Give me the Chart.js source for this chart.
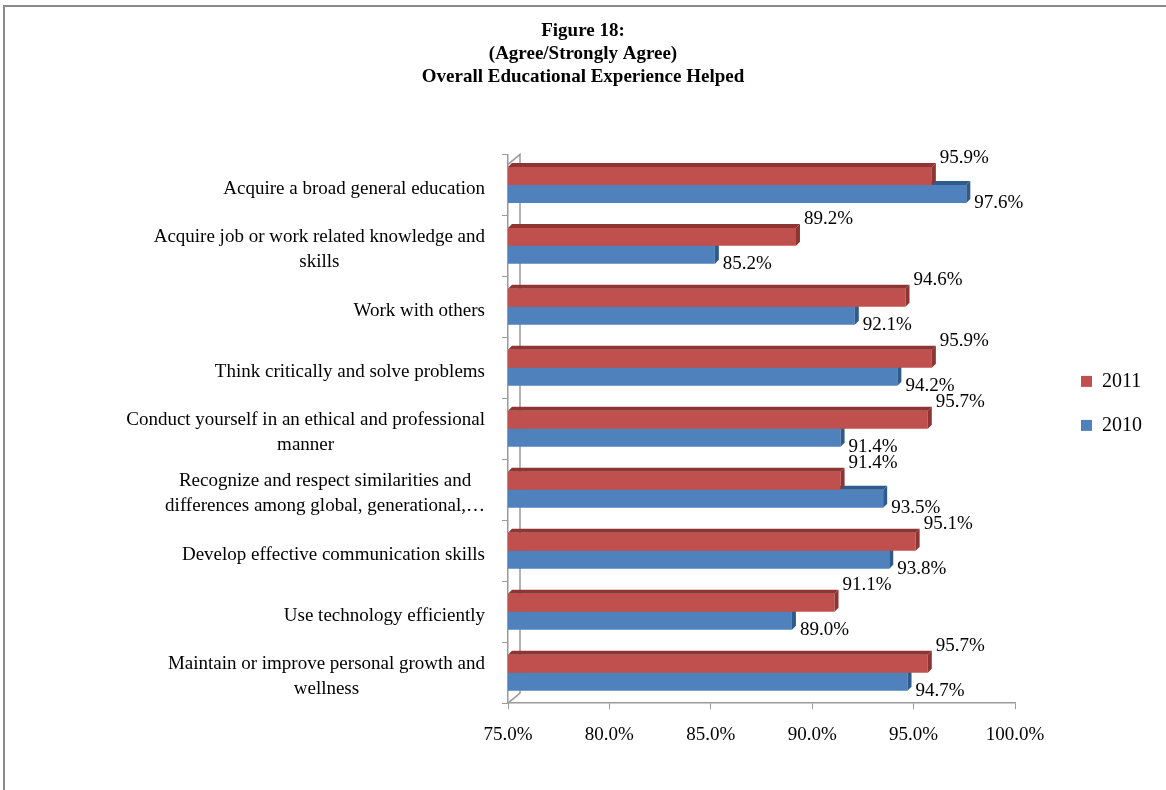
<!DOCTYPE html>
<html>
<head>
<meta charset="utf-8">
<script src="https://cdn.jsdelivr.net/npm/chart.js@4"></script>
<style>
  html, body { margin: 0; padding: 0; background: #fff; }
  #wrap { width: 1166px; height: 790px; position: relative; }
</style>
</head>
<body>
<div id="wrap"><canvas id="chart"></canvas></div>
<script>
const categories = [
  'Acquire a broad general education',
  ['Acquire job or work related knowledge and', 'skills'],
  'Work with others',
  'Think critically and solve problems',
  ['Conduct yourself in an ethical and professional', 'manner'],
  ['Recognize and respect similarities and', 'differences among global, generational,\u2026'],
  'Develop effective communication skills',
  'Use technology efficiently',
  ['Maintain or improve personal growth and', 'wellness']
]
const values2011 = [95.9, 89.2, 94.6, 95.9, 95.7, 91.4, 95.1, 91.1, 95.7]
const values2010 = [97.6, 85.2, 92.1, 94.2, 91.4, 93.5, 93.8, 89.0, 94.7]
const titleLines = ['Figure 18:', '(Agree/Strongly Agree)', 'Overall Educational Experience Helped']

const RED = '#C0504D', RED_DARK = '#8E3533'
const BLUE = '#4F81BD', BLUE_DARK = '#2F5A8C'
const SERIF = "'Liberation Serif', 'Times New Roman', serif"
const depth = 4

// frame lines around the picture, legend and title nudged right
const framePlugin = {
  id: 'frame',
  beforeDraw (chart) {
    const ctx = chart.ctx
    ctx.save()
    ctx.fillStyle = '#fff'
    ctx.fillRect(0, 0, chart.width, chart.height)
    ctx.strokeStyle = '#8a8a8a'
    ctx.lineWidth = 2
    ctx.beginPath()
    ctx.moveTo(4, chart.height)
    ctx.lineTo(4, 6)
    ctx.lineTo(chart.width, 6)
    ctx.stroke()
    ctx.restore()
    if (!chart._nudged) {
      chart.legend.left += 42
      chart.legend.right += 42
      chart.titleBlock.left += 24
      chart.titleBlock.right += 24
      chart._nudged = true
    }
  }
}

// 3d-looking back wall of the plot
const wallPlugin = {
  id: 'wall',
  beforeDatasetsDraw (chart) {
    const {ctx, chartArea: a} = chart
    const dx = 12, dy = 10
    ctx.save()
    ctx.strokeStyle = '#9a9a9a'
    ctx.lineWidth = 1.5
    ctx.beginPath()
    ctx.moveTo(a.left, a.top + dy)
    ctx.lineTo(a.left + dx, a.top)
    ctx.lineTo(a.left + dx, a.bottom - dy)
    ctx.lineTo(a.left, a.bottom)
    ctx.stroke()
    ctx.restore()
  }
}

// category labels: lines centred on each other, block right-aligned to the axis
const categoryLabelPlugin = {
  id: 'catLabels',
  afterDraw (chart) {
    const ctx = chart.ctx
    const yScale = chart.scales.y
    const rightEdge = chart.chartArea.left - 23
    const lh = 25
    ctx.save()
    ctx.font = '19px ' + SERIF
    ctx.fillStyle = '#000'
    ctx.textAlign = 'center'
    ctx.textBaseline = 'middle'
    chart.data.labels.forEach((lab, i) => {
      const lines = Array.isArray(lab) ? lab : [lab]
      const w = Math.max(...lines.map(l => ctx.measureText(l).width))
      const cx = rightEdge - w / 2
      const cy = yScale.getPixelForTick(i) + 4
      lines.forEach((l, k) => {
        ctx.fillText(l, cx, cy + (k - (lines.length - 1) / 2) * lh)
      })
    })
    ctx.restore()
  }
}

// top and side faces of each bar, plus value labels
const barFacePlugin = {
  id: 'barFaces',
  afterDatasetDraw (chart, args) {
    const ctx = chart.ctx
    const dark = args.index === 0 ? RED_DARK : BLUE_DARK
    const left = chart.chartArea.left
    ctx.save()
    args.meta.data.forEach(bar => {
      const {x, y, base, height} = bar.getProps(['x', 'y', 'base', 'height'], true)
      const b = Math.max(base, left)
      const top = y - height / 2, bot = y + height / 2
      ctx.fillStyle = dark
      ctx.beginPath()
      ctx.moveTo(b, top)
      ctx.lineTo(b + depth, top - depth)
      ctx.lineTo(x + depth, top - depth)
      ctx.lineTo(x, top)
      ctx.closePath()
      ctx.fill()
      ctx.beginPath()
      ctx.moveTo(x, top)
      ctx.lineTo(x + depth, top - depth)
      ctx.lineTo(x + depth, bot - depth)
      ctx.lineTo(x, bot)
      ctx.closePath()
      ctx.fill()
    })
    ctx.restore()
  },
  afterDatasetsDraw (chart) {
    const ctx = chart.ctx
    ctx.save()
    ctx.font = '19px ' + SERIF
    ctx.fillStyle = '#000'
    ctx.textBaseline = 'middle'
    chart.data.datasets.forEach((ds, i) => {
      chart.getDatasetMeta(i).data.forEach((bar, j) => {
        const {x, y, height} = bar.getProps(['x', 'y', 'height'], true)
        const ly = i === 0 ? y - height / 2 - 9 : y + height / 2
        ctx.fillText(ds.data[j].toFixed(1) + '%', x + 8, ly)
      })
    })
    ctx.restore()
  }
}

new Chart(document.getElementById('chart'), {
  type: 'bar',
  data: {
    labels: categories,
    datasets: [
      {label: '2011', data: values2011, backgroundColor: RED, borderWidth: 0},
      {label: '2010', data: values2010, backgroundColor: BLUE, borderWidth: 0}
    ]
  },
  options: {
    indexAxis: 'y',
    responsive: true,
    maintainAspectRatio: false,
    animation: false,
    devicePixelRatio: 1,
    categoryPercentage: 0.59,
    barPercentage: 1,
    layout: {padding: {left: 8, right: 56, top: 16, bottom: 30}},
    scales: {
      x: {
        min: 75, max: 100,
        ticks: {
          stepSize: 5,
          color: '#000',
          font: {family: SERIF, size: 19},
          padding: 14,
          callback: v => v.toFixed(1) + '%'
        },
        grid: {display: true, drawOnChartArea: false, drawTicks: true, tickLength: 6, color: '#9a9a9a'},
        border: {display: true, color: '#9a9a9a', width: 1.5}
      },
      y: {
        afterFit: s => { s.width = 500 },
        ticks: {display: false},
        grid: {display: true, offset: true, drawOnChartArea: false, drawTicks: true, tickLength: 6, color: '#9a9a9a'},
        border: {display: true, color: '#9a9a9a', width: 1.5}
      }
    },
    plugins: {
      title: {
        display: true,
        text: titleLines,
        color: '#000',
        font: {family: SERIF, size: 19, weight: 'bold', lineHeight: 1.2},
        padding: {top: 4, bottom: 66}
      },
      legend: {
        position: 'right',
        align: 'start',
        title: {display: true, text: ' ', padding: {top: 317, bottom: 0}},
        labels: {
          color: '#000',
          font: {family: SERIF, size: 20},
          boxWidth: 11,
          boxHeight: 11,
          padding: 24
        }
      },
      tooltip: {enabled: false}
    }
  },
  plugins: [framePlugin, wallPlugin, categoryLabelPlugin, barFacePlugin]
})
</script>
</body>
</html>
